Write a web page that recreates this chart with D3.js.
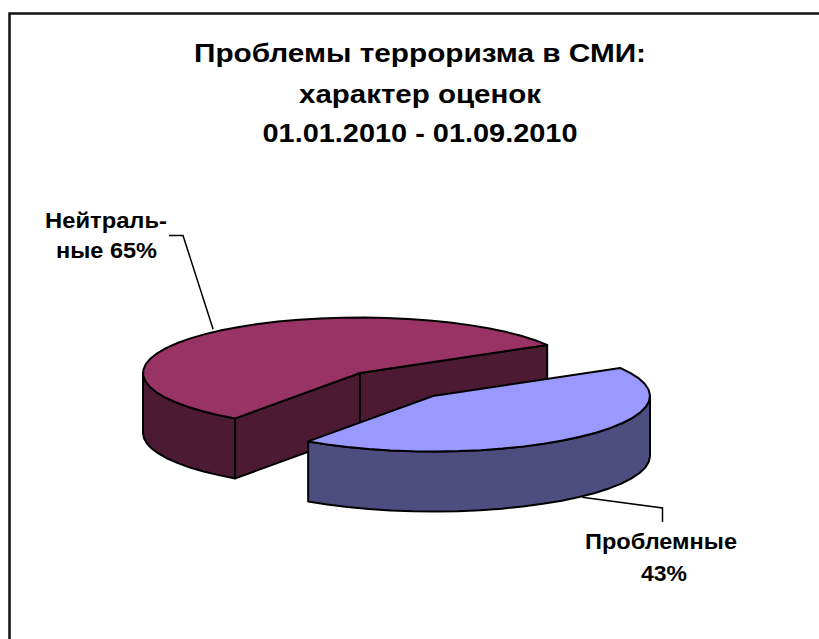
<!DOCTYPE html>
<html>
<head>
<meta charset="utf-8">
<script src="https://cdn.jsdelivr.net/npm/d3@7"></script>
<style>
  html, body { margin: 0; padding: 0; background: #fff; }
  svg { display: block; }
  text { font-family: "Liberation Sans", Arial, sans-serif; font-weight: bold; fill: #000; }
</style>
</head>
<body>
<svg id="chart" width="819" height="639"></svg>
<script>
const titleLines = ["Проблемы терроризма в СМИ:", "характер оценок", "01.01.2010 - 01.09.2010"];
const categories = ["Нейтральные", "Проблемные"];
// slice shares as drawn; the printed labels do not add up to 100
const shares = [56.8, 43.2];
const labelLines = [["Нейтраль-", "ные 65%"], ["Проблемные", "43%"]];
const topColors = ["#993366", "#9999ff"];
const sideColors = ["#4d1a33", "#4d4d80"];

const svg = d3.select("#chart");

// frame: only top and left edges show in the picture
svg.append("path")
    .attr("d", "M9.5,639V13.5H819")
    .attr("fill", "none")
    .attr("stroke", "#111")
    .attr("stroke-width", 2.5);

// the original picture is stretched sideways, textLength gives the same wide glyphs
const titleWidths = [452, 242, 315];

svg.selectAll("text.title")
    .data(titleLines)
    .join("text")
    .attr("class", "title")
    .attr("x", 420)
    .attr("y", (d, i) => [62, 103, 142][i])
    .attr("text-anchor", "middle")
    .attr("textLength", (d, i) => titleWidths[i])
    .attr("lengthAdjust", "spacingAndGlyphs")
    .style("font-size", "26px")
    .text(d => d);

const cx = 360, cy = 373, depth = 60;
const explode = [[0, 0], [73, 23]];

// the pie is a flat ellipse, these map unit circle coords to pixels
const sx = d3.scaleLinear().domain([-1, 1]).range([-217, 217]);
const sy = d3.scaleLinear().domain([-1, 1]).range([55.5, -55.5]);

const pie = d3.pie()
    .sort(null)
    .startAngle(30.4 * Math.PI / 180)
    .endAngle(390.4 * Math.PI / 180);
const arcs = pie(shares);

const line = d3.line();

function rimPoints(a0, a1, ox, oy) {
    const n = Math.max(2, Math.ceil((a1 - a0) / (6 * Math.PI / 180)));
    return d3.range(n + 1).map(i => {
        const a = a0 + (a1 - a0) * i / n;
        return [cx + ox + sx(Math.cos(a)), cy + oy + sy(Math.sin(a))];
    });
}

function drawSlice(i) {
    const d = arcs[i];
    const [ox, oy] = explode[i];
    const g = svg.append("g").attr("class", "slice").datum(categories[i]);
    const center = [cx + ox, cy + oy];
    const rim = rimPoints(d.startAngle, d.endAngle, ox, oy);
    const shaded = { fill: sideColors[i], stroke: "#000", "stroke-width": 2, "stroke-linejoin": "round" };

    function side(pts) {
        const lower = pts.map(p => [p[0], p[1] + depth]).reverse();
        const path = g.append("path").attr("d", line(pts.concat(lower)) + "Z");
        Object.entries(shaded).forEach(([k, v]) => path.attr(k, v));
    }

    // outer wall, only the part on the near side of the ellipse
    const wallStart = Math.max(d.startAngle, Math.PI);
    const wallEnd = Math.min(d.endAngle, 2 * Math.PI);
    side(rimPoints(wallStart, wallEnd, ox, oy));

    // cut faces can be seen on the back slice only
    if (i === 0) {
        side([rim[rim.length - 1], center]);
        side([center, rim[0]]);
    }

    g.append("path")
        .attr("d", line([center].concat(rim)) + "Z")
        .attr("fill", topColors[i])
        .attr("stroke", "#000")
        .attr("stroke-width", 2)
        .attr("stroke-linejoin", "round");
}

drawSlice(0);
drawSlice(1);

// leader lines are anchored to the slices, then run out to the label
function rimAt(i, deg, drop) {
    const [ox, oy] = explode[i];
    const a = deg * Math.PI / 180;
    return [cx + ox + sx(Math.cos(a)), cy + oy + sy(Math.sin(a)) + drop];
}

const leaders = [
    [rimAt(0, 132.6, -3), [183, 235.5], [169, 235.5]],
    [rimAt(1, 313.4, 61), [662.5, 508], [662.5, 522]]
];

svg.selectAll("path.leader")
    .data(leaders)
    .join("path")
    .attr("class", "leader")
    .attr("d", d => line(d))
    .attr("fill", "none")
    .attr("stroke", "#000")
    .attr("stroke-width", 1.5);

const labelPos = [
    { x: [106, 106.5], y: [228, 258], w: [122, 101] },
    { x: [661, 664], y: [549, 581], w: [152, 46] }
];

labelLines.forEach((lines, i) => {
    svg.selectAll("text.label" + i)
        .data(lines)
        .join("text")
        .attr("class", "label" + i)
        .attr("x", (d, j) => labelPos[i].x[j])
        .attr("y", (d, j) => labelPos[i].y[j])
        .attr("text-anchor", "middle")
        .attr("textLength", (d, j) => labelPos[i].w[j])
        .attr("lengthAdjust", "spacingAndGlyphs")
        .style("font-size", "21.5px")
        .text(d => d);
});
</script>
</body>
</html>
